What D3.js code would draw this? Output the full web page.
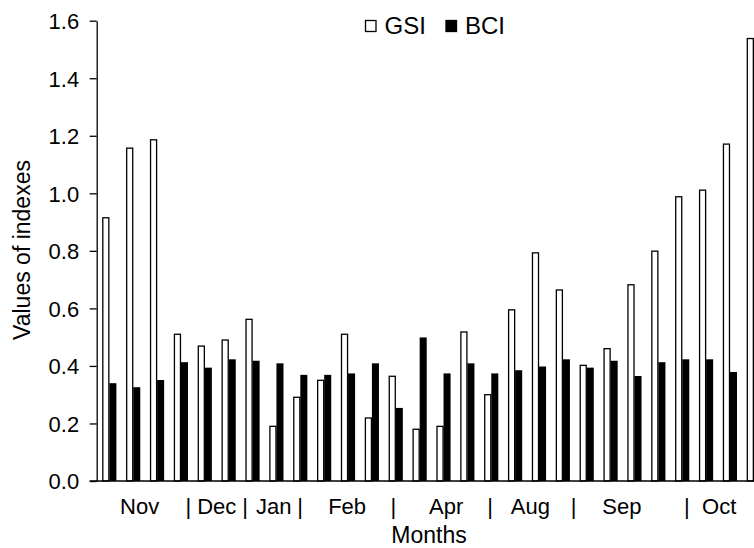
<!DOCTYPE html>
<html>
<head>
<meta charset="utf-8">
<script src="https://cdn.jsdelivr.net/npm/d3@7"></script>
<style>
  body { margin: 0; background: #fff; }
  svg { display: block; font-family: "Liberation Sans", Arial, sans-serif; }
</style>
</head>
<body>
<svg width="754" height="548"></svg>
<script>
// one pair of bars per sampling, 28 samplings
var samples = d3.range(28);

var gsi = [0.915, 1.157, 1.186, 0.510, 0.469, 0.490, 0.562, 0.190, 0.291, 0.350,
           0.510, 0.219, 0.364, 0.180, 0.190, 0.518, 0.300, 0.595, 0.793, 0.664,
           0.402, 0.460, 0.682, 0.799, 0.988, 1.011, 1.171, 1.538];
var bci = [0.340, 0.326, 0.351, 0.413, 0.394, 0.423, 0.418, 0.409, 0.369, 0.369,
           0.374, 0.409, 0.254, 0.499, 0.374, 0.409, 0.374, 0.385, 0.398, 0.423,
           0.394, 0.418, 0.365, 0.413, 0.423, 0.423, 0.379, 0.400];

var yTicks = [0, 0.2, 0.4, 0.6, 0.8, 1.0, 1.2, 1.4, 1.6];

// month labels and separators, position in sample units
var monthLabels = ["Nov", "|", "Dec", "|", "Jan", "|", "Feb", "|", "Apr", "|", "Aug", "|", "Sep", "|", "Oct"];
var monthPos = [1.27, 3.31, 4.50, 5.69, 6.89, 7.99, 9.96, 11.90, 14.11, 15.95, 17.64, 19.45, 21.47, 24.19, 25.55];

var series = ["GSI", "BCI"];

(function() {
    var svg = d3.select("svg");

    var left = 96.7, bottom = 481, top = 20.7;

    var x = d3.scaleBand()
        .domain(samples)
        .range([left, 766.5])
        .paddingInner(0.41)
        .paddingOuter(0.235);

    var xs = d3.scaleBand()
        .domain(series)
        .range([0, x.bandwidth()]);

    var y = d3.scaleLinear()
        .domain([0, 1.6])
        .range([bottom, top]);

    var center = d3.scaleLinear()
        .domain([0, samples.length - 1])
        .range([x(0) + x.bandwidth() / 2, x(samples.length - 1) + x.bandwidth() / 2]);

    var data = samples.map(function(i) {
        return {i: i, values: [{key: "GSI", v: gsi[i]}, {key: "BCI", v: bci[i]}]};
    });

    var g = svg.selectAll(".pair")
        .data(data)
        .enter().append("g")
          .attr("class", "pair")
          .attr("transform", function(d) { return "translate(" + x(d.i) + ",0)"; });

    g.selectAll("rect")
        .data(function(d) { return d.values; })
        .enter().append("rect")
          .attr("x", function(d) { return xs(d.key) + (d.key === "GSI" ? 0.5 : 0); })
          .attr("y", function(d) { return y(d.v); })
          .attr("width", function(d) { return d.key === "GSI" ? xs.bandwidth() - 1 : xs.bandwidth(); })
          .attr("height", function(d) { return bottom - y(d.v); })
          .style("fill", function(d) { return d.key === "GSI" ? "#fff" : "#000"; })
          .style("stroke", "#000")
          .style("stroke-width", function(d) { return d.key === "GSI" ? 1.3 : 0; });

    // y axis
    var yAxis = svg.append("g")
        .attr("transform", "translate(" + left + ",0)")
        .call(d3.axisLeft(y).tickValues(yTicks).tickFormat(d3.format(".1f")).tickSize(7).tickSizeOuter(0));
    yAxis.select(".domain").attr("stroke", "#000").attr("stroke-width", 1.3);
    yAxis.selectAll(".tick line").attr("stroke", "#000").attr("stroke-width", 1.3);
    yAxis.selectAll(".tick text")
        .attr("x", -17.5)
        .attr("dy", "0.36em")
        .style("font-family", "'Liberation Sans', Arial, sans-serif")
        .style("font-size", "22px")
        .style("fill", "#000");

    // x baseline
    svg.append("line")
        .attr("x1", left - 7).attr("x2", 754)
        .attr("y1", bottom).attr("y2", bottom)
        .attr("stroke", "#000").attr("stroke-width", 1.3);

    // month labels
    svg.selectAll(".month")
        .data(monthLabels)
        .enter().append("text")
          .attr("class", "month")
          .attr("x", function(d, i) { return center(monthPos[i]); })
          .attr("y", 514)
          .attr("text-anchor", "middle")
          .style("font-size", "22px")
          .text(function(d) { return d; });

    svg.append("text")
        .attr("x", 429).attr("y", 543)
        .attr("text-anchor", "middle")
        .style("font-size", "23px")
        .text("Months");

    svg.append("text")
        .attr("transform", "translate(30,250) rotate(-90)")
        .attr("text-anchor", "middle")
        .style("font-size", "23px")
        .text("Values of indexes");

    // legend
    var legend = svg.selectAll(".legend")
        .data(series)
        .enter().append("g")
          .attr("class", "legend")
          .attr("transform", function(d, i) { return "translate(" + (365 + i * 80.5) + ",0)"; });

    legend.append("rect")
        .attr("x", 0.5).attr("y", 20.5)
        .attr("width", 10.5).attr("height", 11)
        .style("fill", function(d) { return d === "GSI" ? "#fff" : "#000"; })
        .style("stroke", "#000")
        .style("stroke-width", 1.3);

    legend.append("text")
        .attr("x", 19.5).attr("y", 34)
        .style("font-size", "24px")
        .text(function(d) { return d; });
})();
</script>
</body>
</html>
